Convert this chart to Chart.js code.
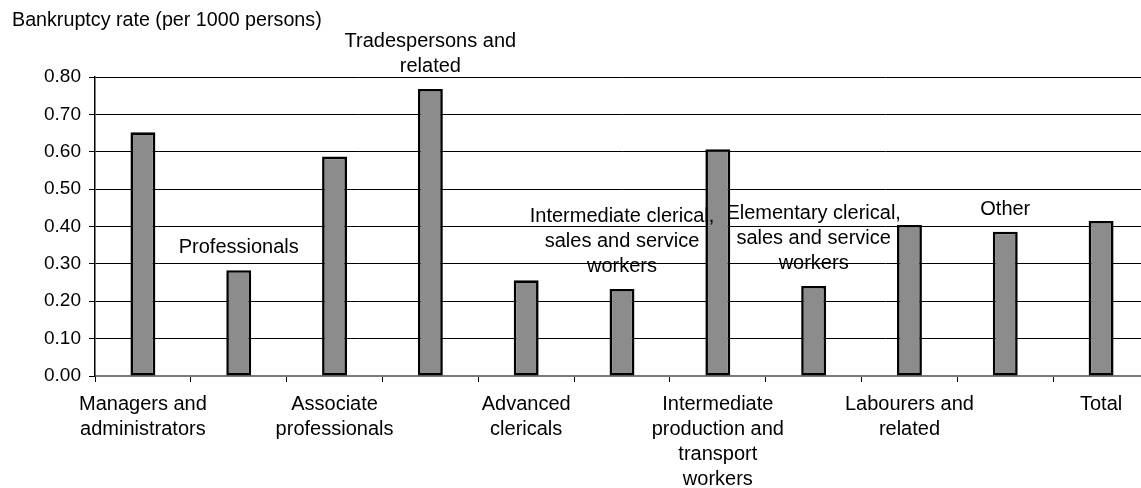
<!DOCTYPE html>
<html>
<head>
<meta charset="utf-8">
<script src="https://cdn.jsdelivr.net/npm/chart.js@4/dist/chart.umd.min.js"></script>
<style>
  html, body { margin: 0; padding: 0; background: #fff; overflow: hidden; width: 1141px; height: 488px; }
  #wrap { position: absolute; left: 0; top: 0; width: 1160px; height: 488px; }
</style>
</head>
<body>
<div id="wrap"><canvas id="c"></canvas></div>
<script>
const yTitle = 'Bankruptcy rate (per 1000 persons)';
const categories = [
  'Managers and administrators',
  'Professionals',
  'Associate professionals',
  'Tradespersons and related',
  'Advanced clericals',
  'Intermediate clerical, sales and service workers',
  'Intermediate production and transport workers',
  'Elementary clerical, sales and service workers',
  'Labourers and related',
  'Other',
  'Total'
];
const values = [0.652, 0.283, 0.587, 0.768, 0.256, 0.233, 0.607, 0.241, 0.404, 0.386, 0.415];
// wrapped label lines; even-index labels sit under the axis, odd-index labels above the bars
const labelLines = [
  ['Managers and', 'administrators'],
  ['Professionals'],
  ['Associate', 'professionals'],
  ['Tradespersons and', 'related'],
  ['Advanced', 'clericals'],
  ['Intermediate clerical,', 'sales and service', 'workers'],
  ['Intermediate', 'production and', 'transport', 'workers'],
  ['Elementary clerical,', 'sales and service', 'workers'],
  ['Labourers and', 'related'],
  ['Other'],
  ['Total']
];
const yTicks = [0, 0.1, 0.2, 0.3, 0.4, 0.5, 0.6, 0.7, 0.8];

const FONT = '"Liberation Sans", Arial, sans-serif';

const overlay = {
  id: 'overlay',
  afterDraw(chart) {
    const ctx = chart.ctx;
    const xs = chart.scales.x, ys = chart.scales.y;
    ctx.save();
    ctx.fillStyle = '#000';
    ctx.font = '20px ' + FONT;
    ctx.textAlign = 'center';
    ctx.textBaseline = 'alphabetic';
    labelLines.forEach((lines, i) => {
      if (i % 2 === 0) return;
      const x = xs.getPixelForValue(i);
      const yb = ys.getPixelForValue(values[i]) - 17;
      for (let k = 0; k < lines.length; k++) {
        ctx.fillText(lines[lines.length - 1 - k], x, yb - k * 25);
      }
    });
    ctx.textAlign = 'left';
    ctx.font = '19.7px ' + FONT;
    ctx.fillText(yTitle, 12, 26);
    ctx.restore();
  }
};

new Chart(document.getElementById('c'), {
  type: 'bar',
  data: {
    labels: categories,
    datasets: [{
      data: values,
      backgroundColor: '#8c8c8c',
      borderColor: '#000',
      borderWidth: 2.6,
      borderSkipped: false,
      categoryPercentage: 1,
      barPercentage: 0.26
    }]
  },
  options: {
    responsive: true,
    maintainAspectRatio: false,
    animation: false,
    layout: { padding: { top: 77, right: 11, left: 0, bottom: 0 } },
    plugins: { legend: { display: false }, tooltip: { enabled: false }, title: { display: false } },
    scales: {
      x: {
        offset: true,
        grid: { offset: true, drawOnChartArea: false, drawTicks: true, tickLength: 6, color: '#000', lineWidth: 1 },
        border: { display: true, color: '#7a7a7a', width: 2 },
        ticks: {
          autoSkip: false,
          maxRotation: 0,
          minRotation: 0,
          color: '#000',
          padding: 10,
          font: { family: FONT, size: 20, lineHeight: 1.25 },
          callback: (v, i) => (i % 2 === 0 ? labelLines[i] : '')
        },
        afterFit: (s) => { s.height = 112; }
      },
      y: {
        min: 0,
        max: 0.8,
        afterBuildTicks: (s) => { s.ticks = yTicks.map(v => ({ value: v })); },
        grid: { drawTicks: true, tickLength: 6, color: '#000', lineWidth: 1 },
        border: { display: true, color: '#000', width: 1.5 },
        ticks: {
          color: '#000',
          padding: 8,
          font: { family: FONT, size: 19 },
          callback: (v) => Number(v).toFixed(2)
        },
        afterFit: (s) => { s.width = 95; }
      }
    }
  },
  plugins: [overlay]
});
</script>
</body>
</html>
